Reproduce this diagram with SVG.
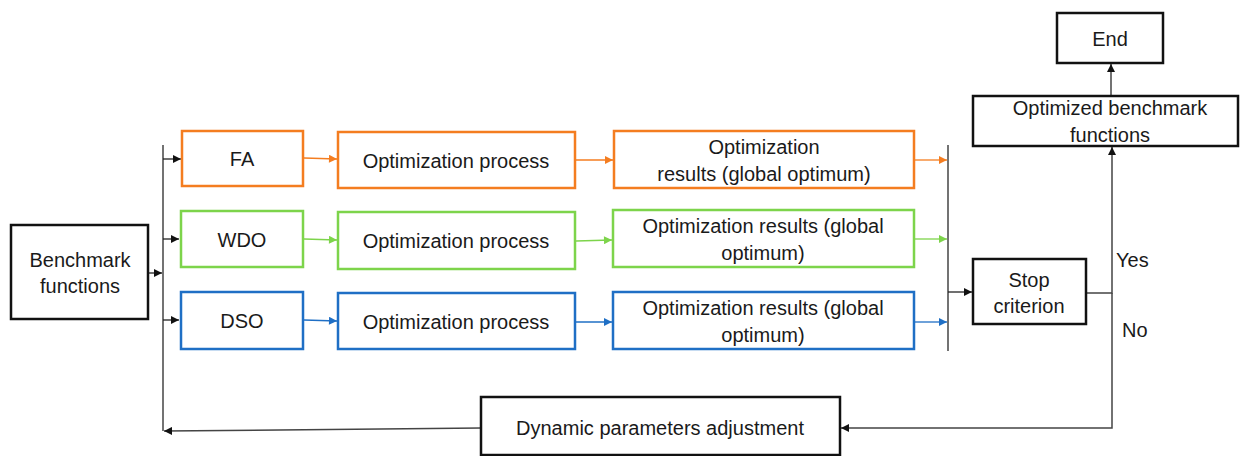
<svg xmlns="http://www.w3.org/2000/svg" width="1243" height="456" viewBox="0 0 1243 456">
<defs>
<style>
text{font-family:"Liberation Sans",Arial,sans-serif;font-size:20px;fill:#1a1a1a;text-anchor:middle}
.k{fill:#fff;stroke:#111;stroke-width:2.5}
.o{fill:#fff;stroke:#F47D20;stroke-width:2.5}
.g{fill:#fff;stroke:#7DD44B;stroke-width:2.5}
.b{fill:#fff;stroke:#1F6FC5;stroke-width:2.5}
.c{fill:none;stroke:#444;stroke-width:1.5}
.ck{fill:none;stroke:#222;stroke-width:1.3}
.co{fill:none;stroke:#F47D20;stroke-width:1.3}
.cg{fill:none;stroke:#7DD44B;stroke-width:1.3}
.cb{fill:none;stroke:#1F6FC5;stroke-width:1.3}
</style>
<marker id="ak" viewBox="0 0 10 10" refX="10" refY="5" markerWidth="9" markerHeight="8" markerUnits="userSpaceOnUse" orient="auto"><path d="M0,0L10,5L0,10z" fill="#111"/></marker>
<marker id="ao" viewBox="0 0 10 10" refX="10" refY="5" markerWidth="9" markerHeight="8" markerUnits="userSpaceOnUse" orient="auto"><path d="M0,0L10,5L0,10z" fill="#F47D20"/></marker>
<marker id="ag" viewBox="0 0 10 10" refX="10" refY="5" markerWidth="9" markerHeight="8" markerUnits="userSpaceOnUse" orient="auto"><path d="M0,0L10,5L0,10z" fill="#7DD44B"/></marker>
<marker id="ab" viewBox="0 0 10 10" refX="10" refY="5" markerWidth="9" markerHeight="8" markerUnits="userSpaceOnUse" orient="auto"><path d="M0,0L10,5L0,10z" fill="#1F6FC5"/></marker>
</defs>
<g id="connectors">
<line class="c" x1="163" y1="145" x2="163" y2="431"/>
<line class="c" x1="948" y1="145" x2="948" y2="351"/>
<line class="ck" x1="148" y1="273" x2="162" y2="273" marker-end="url(#ak)"/>
<line class="ck" x1="163" y1="159" x2="181" y2="159" marker-end="url(#ak)"/>
<line class="ck" x1="163" y1="239" x2="179" y2="239" marker-end="url(#ak)"/>
<line class="ck" x1="163" y1="320" x2="179" y2="320" marker-end="url(#ak)"/>
<line class="co" x1="304" y1="158" x2="337" y2="159" marker-end="url(#ao)"/>
<line class="co" x1="576" y1="160" x2="613" y2="160" marker-end="url(#ao)"/>
<line class="co" x1="915" y1="160" x2="947" y2="160" marker-end="url(#ao)"/>
<line class="cg" x1="304" y1="239" x2="337" y2="240" marker-end="url(#ag)"/>
<line class="cg" x1="576" y1="241" x2="612" y2="240" marker-end="url(#ag)"/>
<line class="cg" x1="915" y1="239" x2="947" y2="239" marker-end="url(#ag)"/>
<line class="cb" x1="304" y1="320" x2="337" y2="321" marker-end="url(#ab)"/>
<line class="cb" x1="576" y1="322" x2="612" y2="322" marker-end="url(#ab)"/>
<line class="cb" x1="915" y1="322" x2="947" y2="322" marker-end="url(#ab)"/>
<line class="ck" x1="948" y1="292" x2="972" y2="292" marker-end="url(#ak)"/>
<polyline class="c" points="1086,293 1112,293 1112,147" marker-end="url(#ak)"/>
<line class="c" x1="1111" y1="96" x2="1111" y2="64" marker-end="url(#ak)"/>
<polyline class="c" points="1112,293 1112,428 841,428" marker-end="url(#ak)"/>
<line class="c" x1="481" y1="428" x2="164" y2="431" marker-end="url(#ak)"/>
<text x="1116" y="267" style="text-anchor:start">Yes</text>
<text x="1122" y="337" style="text-anchor:start">No</text>
</g>
<g id="benchmark"><rect class="k" x="11" y="225" width="137" height="94"/><text x="80" y="267">Benchmark</text><text x="80" y="293">functions</text></g>
<g id="fa"><rect class="o" x="182" y="131" width="121" height="55"/><text x="242" y="166">FA</text></g>
<g id="wdo"><rect class="g" x="181" y="211" width="122" height="56"/><text x="242" y="247">WDO</text></g>
<g id="dso"><rect class="b" x="181" y="292" width="122" height="57"/><text x="242" y="328">DSO</text></g>
<g id="opt-fa"><rect class="o" x="338" y="132" width="237" height="56"/><text x="456" y="168">Optimization process</text></g>
<g id="opt-wdo"><rect class="g" x="338" y="212" width="237" height="57"/><text x="456" y="248">Optimization process</text></g>
<g id="opt-dso"><rect class="b" x="338" y="293" width="237" height="56"/><text x="456" y="329">Optimization process</text></g>
<g id="res-fa"><rect class="o" x="614" y="131" width="300" height="57"/><text x="764" y="154">Optimization</text><text x="764" y="181">results (global optimum)</text></g>
<g id="res-wdo"><rect class="g" x="613" y="210" width="301" height="57"/><text x="763" y="233">Optimization results (global</text><text x="763" y="260">optimum)</text></g>
<g id="res-dso"><rect class="b" x="613" y="292" width="301" height="57"/><text x="763" y="315">Optimization results (global</text><text x="763" y="342">optimum)</text></g>
<g id="stop"><rect class="k" x="973" y="259" width="113" height="65"/><text x="1029" y="287">Stop</text><text x="1029" y="313">criterion</text></g>
<g id="optimized"><rect class="k" x="973" y="96" width="265" height="50"/><text x="1110" y="115">Optimized benchmark</text><text x="1110" y="142">functions</text></g>
<g id="end"><rect class="k" x="1057" y="13" width="106" height="50"/><text x="1110" y="46">End</text></g>
<g id="dynamic"><rect class="k" x="481" y="397" width="359" height="58"/><text x="660" y="435">Dynamic parameters adjustment</text></g>
</svg>
